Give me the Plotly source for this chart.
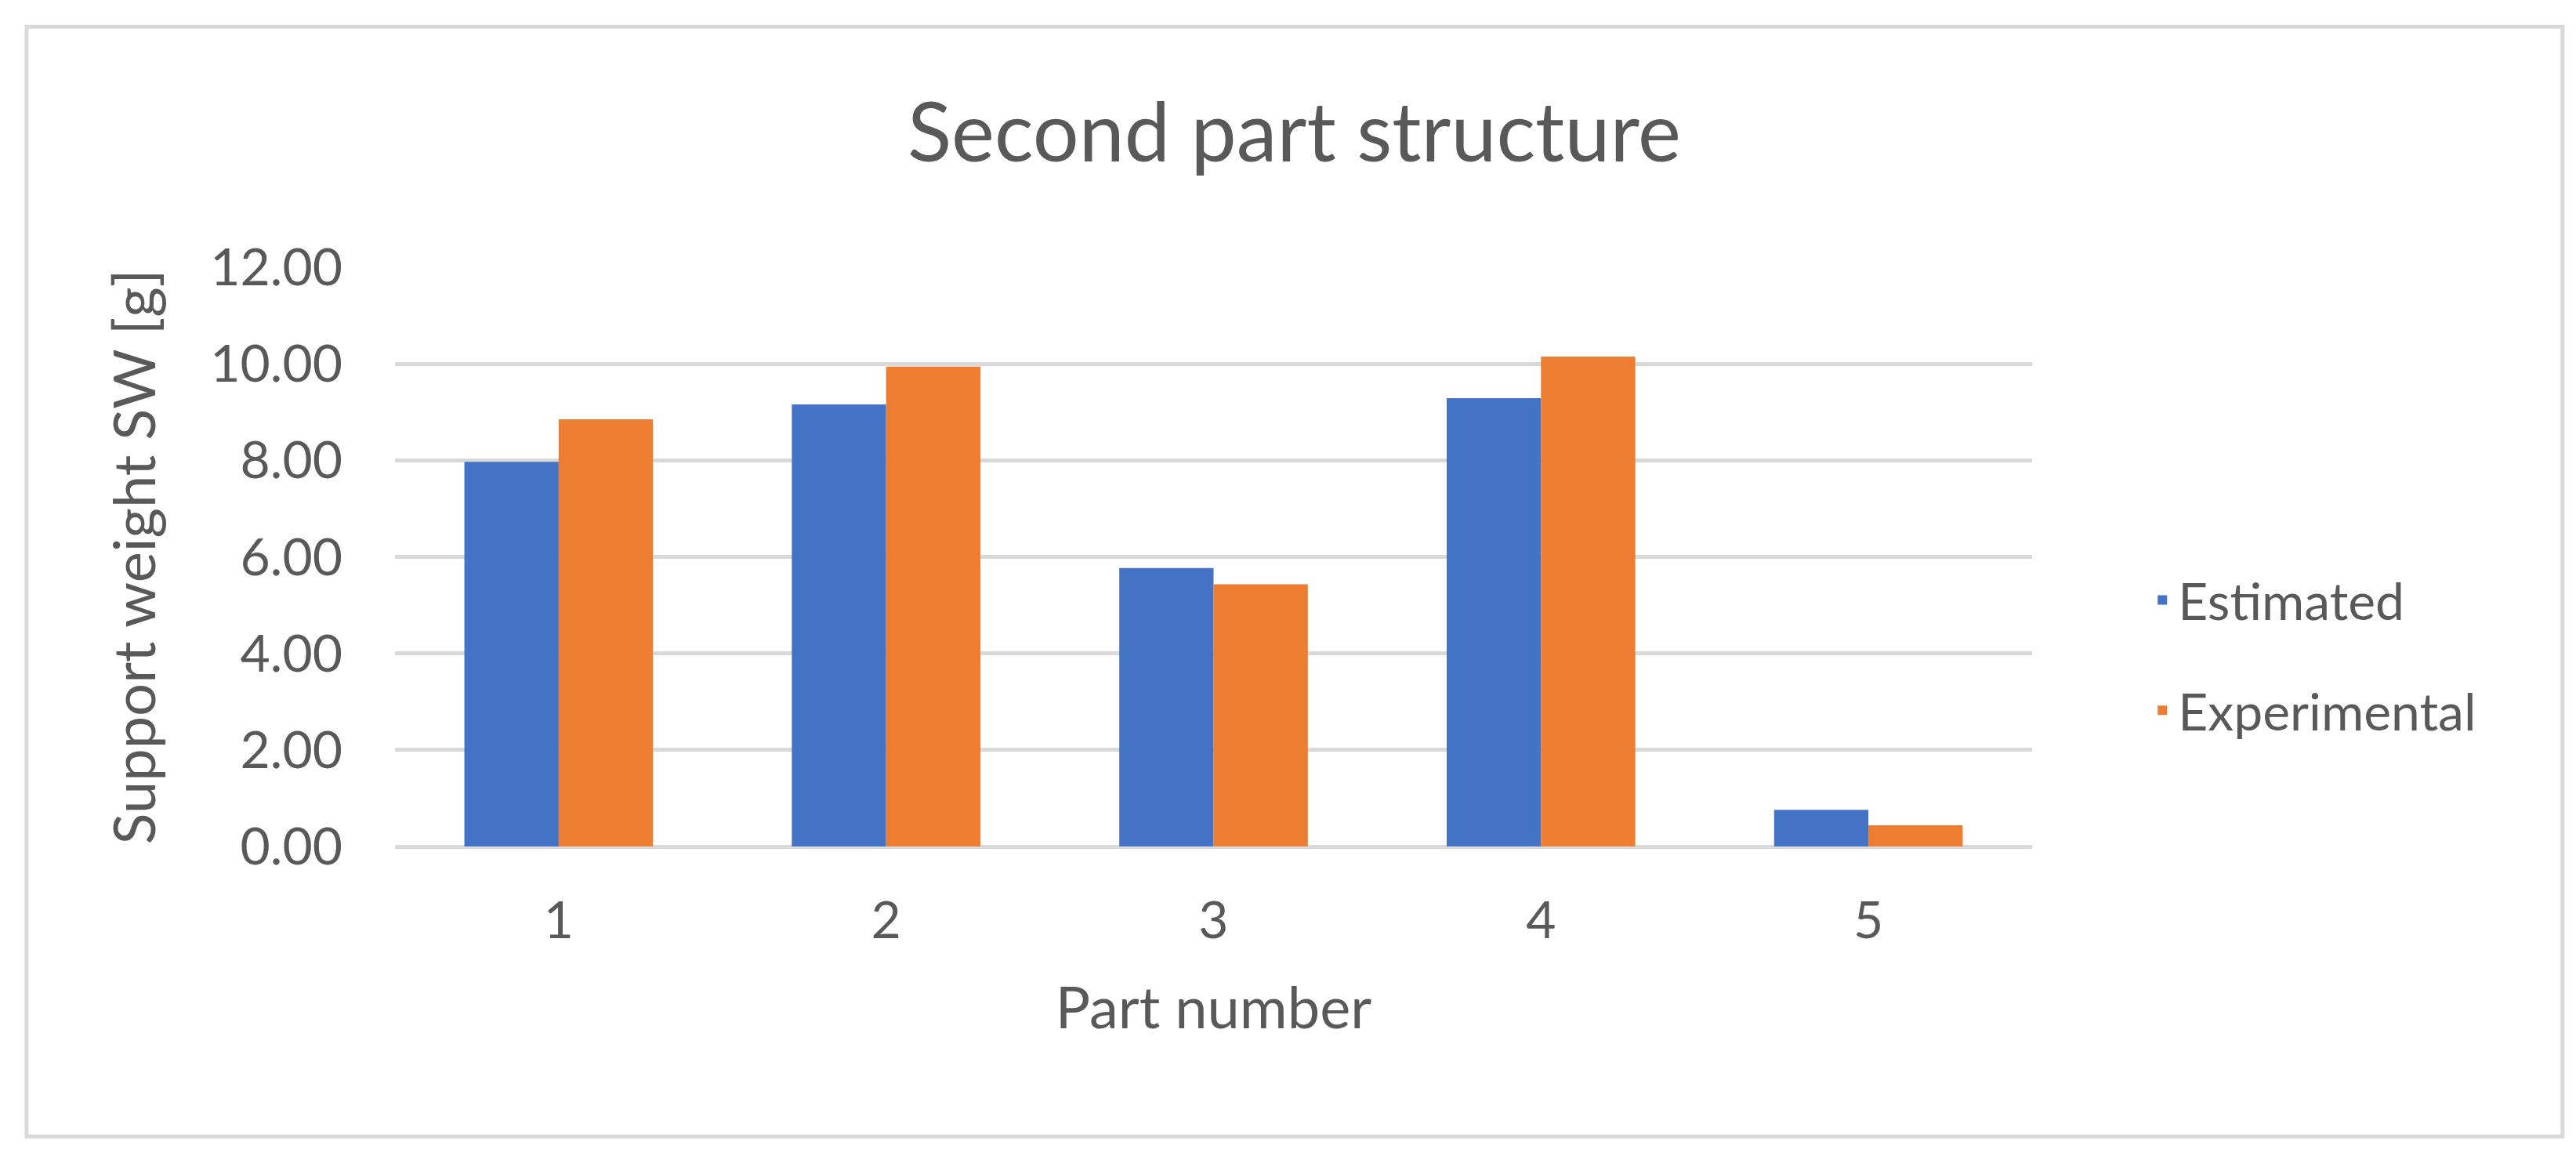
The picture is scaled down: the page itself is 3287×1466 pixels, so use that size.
import plotly.graph_objects as go

parts = ["1", "2", "3", "4", "5"]
estimated = [7.97, 9.16, 5.77, 9.29, 0.76]
experimental = [8.85, 9.94, 5.43, 10.15, 0.44]
y_ticks = [0, 2, 4, 6, 8, 10, 12]
y_tick_text = ["0.00", "2.00", "4.00", "6.00", "8.00", "10.00", "12.00"]

font_family = "Segoe UI, Lato, sans-serif"
text_color = "#595959"
grid_color = "#d9d9d9"

fig = go.Figure()

fig.add_trace(
    go.Bar(
        x=parts,
        y=estimated,
        name="Estimated",
        marker=dict(color="#4472C4", line=dict(width=0)),
        legendgroup="a",
    )
)
fig.add_trace(
    go.Bar(
        x=parts,
        y=experimental,
        name="Experimental",
        marker=dict(color="#ED7D31", line=dict(width=0)),
        legendgroup="b",
    )
)

fig.update_layout(
    width=3287,
    height=1466,
    margin=dict(l=496, r=702, t=333, b=394),
    paper_bgcolor="white",
    plot_bgcolor="white",
    barmode="group",
    bargap=0.424,
    bargroupgap=0,
    font=dict(family=font_family, size=66, color=text_color),
    title=dict(
        text="Second part structure",
        font=dict(size=104, color=text_color),
        x=0.5,
        xref="container",
        xanchor="center",
        y=0.89,
        yref="container",
        yanchor="middle",
    ),
    legend=dict(
        x=1.07,
        xanchor="left",
        y=0.33,
        yanchor="middle",
        font=dict(size=66, color=text_color),
        tracegroupgap=52,
        bgcolor="rgba(0,0,0,0)",
    ),
    xaxis=dict(
        title=dict(text="Part number", font=dict(size=74), standoff=50),
        showgrid=False,
        showline=False,
        ticks="",
        ticklabelstandoff=50,
    ),
    yaxis=dict(
        title=dict(text="Support weight SW [g]", font=dict(size=74), standoff=45),
        range=[0, 12],
        tickvals=y_ticks,
        ticktext=y_tick_text,
        showgrid=True,
        gridcolor=grid_color,
        gridwidth=5,
        zeroline=True,
        zerolinecolor=grid_color,
        zerolinewidth=5,
        showline=False,
        ticks="",
        ticklabelstandoff=66,
    ),
    # thin grey frame round the whole chart
    shapes=[
        dict(
            type="rect",
            xref="paper",
            yref="paper",
            x0=-0.225,
            x1=1.324,
            y0=-0.5007,
            y1=1.415,
            line=dict(color=grid_color, width=5),
            fillcolor="rgba(0,0,0,0)",
            layer="below",
        )
    ],
)

fig.write_html("out.html")
